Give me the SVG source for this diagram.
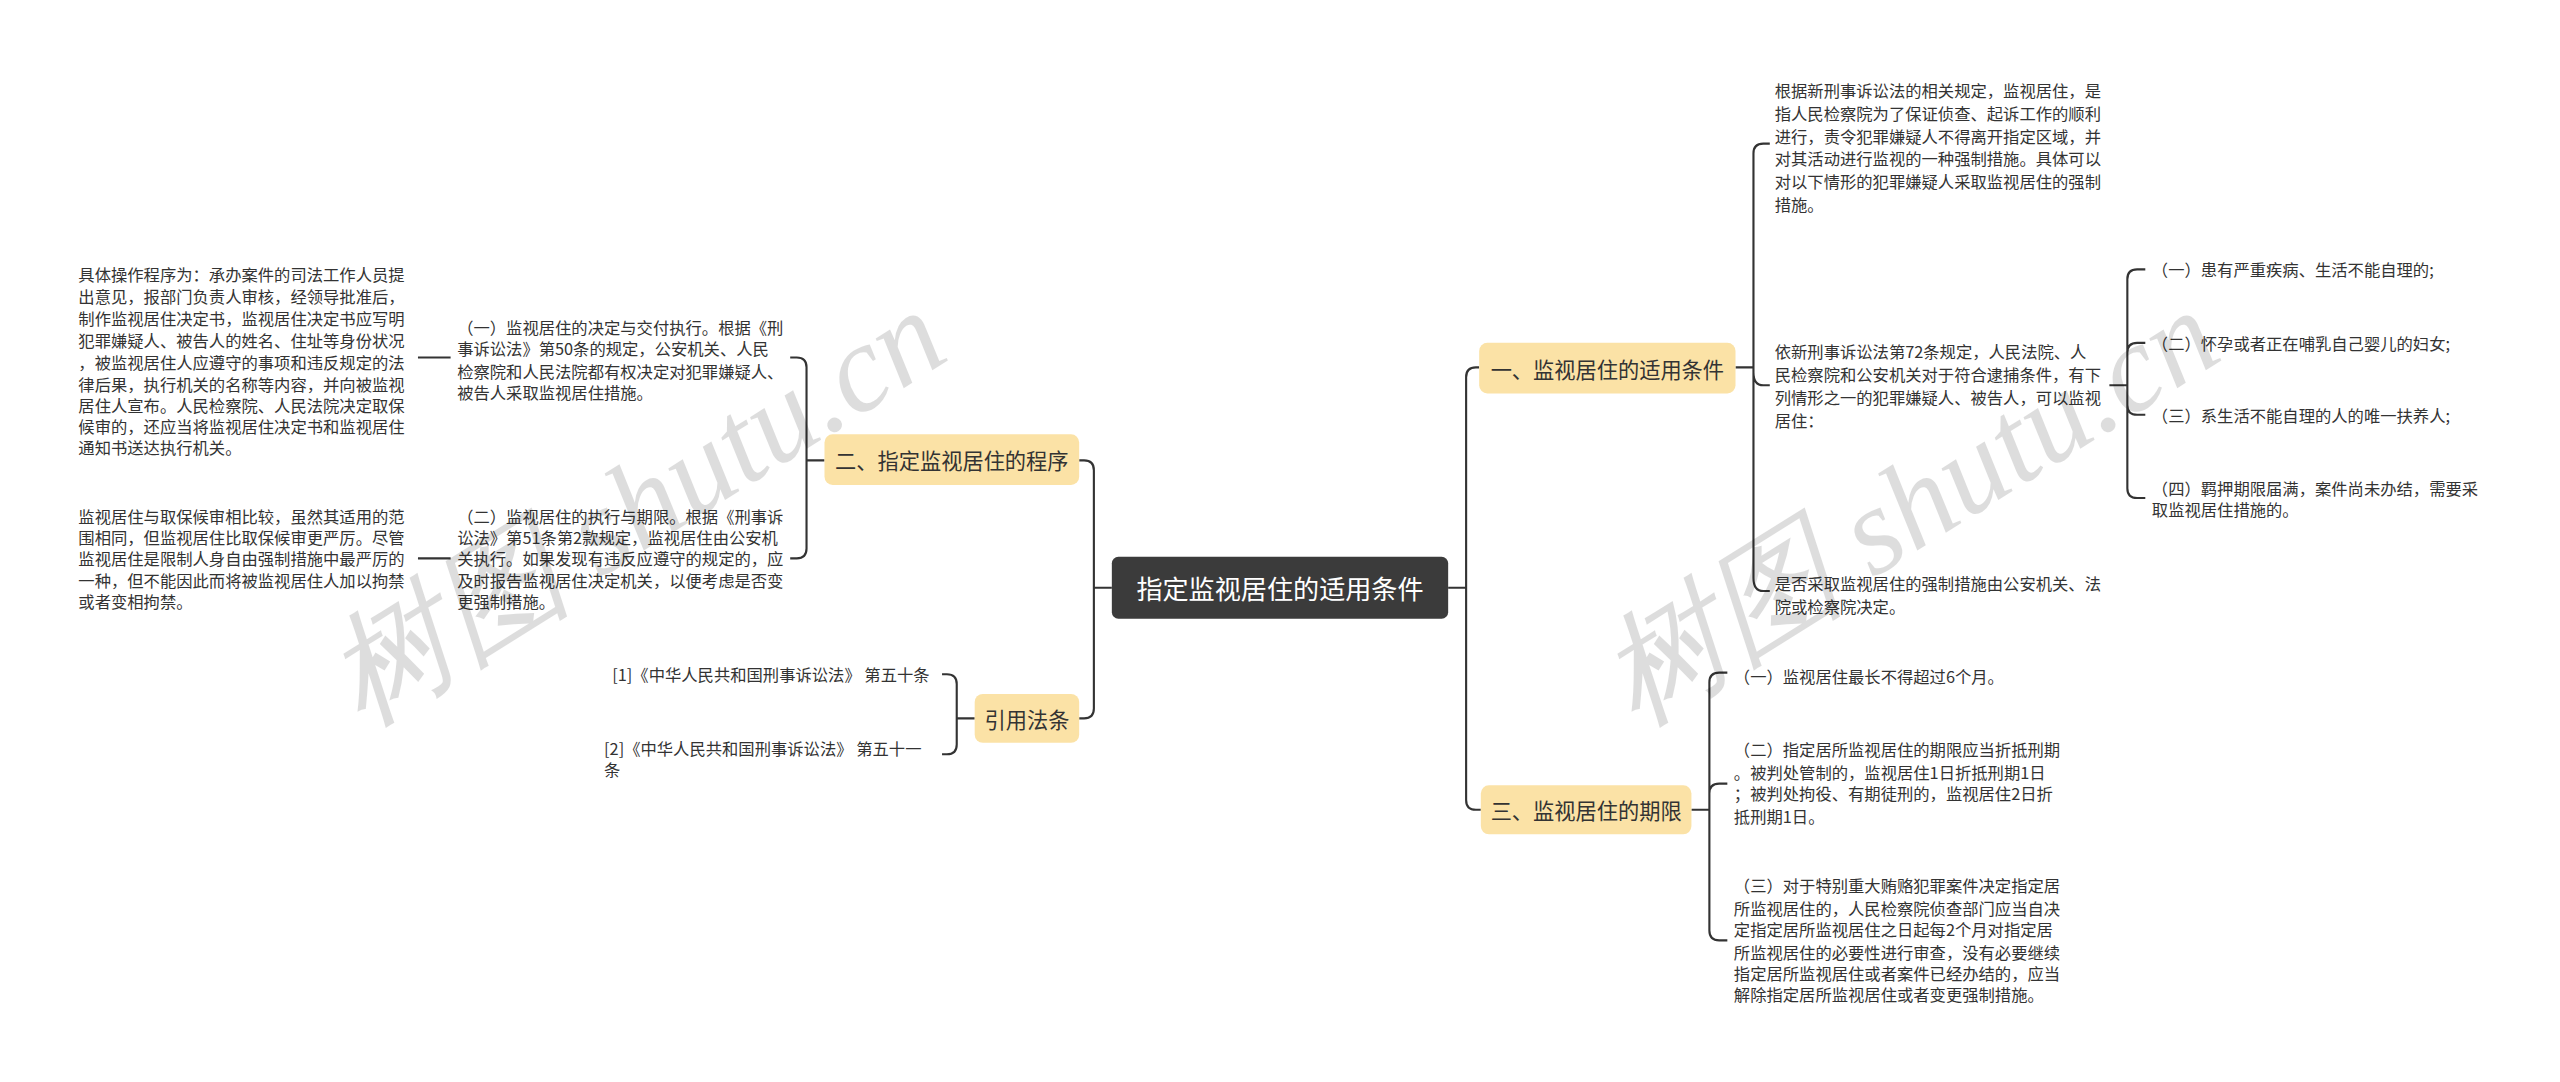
<svg xmlns="http://www.w3.org/2000/svg" width="2560" height="1082" viewBox="0 0 2560 1082">
<style>
.t{font-family:"Noto Sans CJK SC","Noto Sans",sans-serif;font-size:10px;fill:#333;dominant-baseline:central}
.b{font-family:"Noto Sans CJK SC","Noto Sans",sans-serif;font-size:13px;fill:#333;dominant-baseline:central;text-anchor:middle}
.c{font-family:"Noto Sans CJK SC","Noto Sans",sans-serif;font-size:16px;fill:#fff;dominant-baseline:central;text-anchor:middle}
.br{fill:#fbe2a6}
.ln{fill:none;stroke:#333;stroke-width:1.3}
.wm{font-family:"Liberation Serif",serif;font-size:76px;fill:#000;opacity:0.13;font-style:italic}
</style>
<rect width="2560" height="1082" fill="#fff"/>
<g transform="scale(1.63265)">
<g id="connectors" class="ln">
<path d="M887,360 H898 M898,360 V231 Q898,225 904,225 H906 M898,360 V490 Q898,496 904,496 H907"/>
<path d="M681,360 H670 M670,360 V288 Q670,282 664,282 H661 M670,360 V434 Q670,440 664,440 H661"/>
<path d="M1063,225 H1074 M1074,225 V94 Q1074,88 1080,88 H1084 M1074,225 V228 Q1074,236 1080,236 H1084 M1074,225 V354 Q1074,362 1080,362 H1084"/>
<path d="M1292,236 H1303 M1303,236 V171 Q1303,165 1309,165 H1314 M1303,236 V216 Q1303,210 1309,210 H1314 M1303,236 V248 Q1303,254 1309,254 H1314 M1303,236 V299 Q1303,305 1309,305 H1314"/>
<path d="M1036,496 H1047 M1047,496 V418 Q1047,412 1053,412 H1058 M1047,496 V486 Q1047,480 1053,480 H1058 M1047,496 V570 Q1047,576 1053,576 H1058"/>
<path d="M505,282 H494 M494,282 V225 Q494,219 488,219 H484 M494,282 V336 Q494,342 488,342 H484"/>
<path d="M276,219 H256 M276,342 H256"/>
<path d="M597,440 H586 M586,440 V419 Q586,413 580,413 H577 M586,440 V456 Q586,462 580,462 H577"/>
</g>
<g id="center"><rect x="681" y="341" width="206" height="38" rx="4" fill="#3b3b3b"/><text class="c" x="784" y="360">指定监视居住的适用条件</text></g>
<g id="b1"><rect class="br" x="906" y="210" width="157" height="31" rx="5"/><text class="b" x="984.5" y="225.5">一、监视居住的适用条件</text></g>
<g id="b3"><rect class="br" x="907" y="481" width="129" height="30" rx="5"/><text class="b" x="971.5" y="496">三、监视居住的期限</text></g>
<g id="b2"><rect class="br" x="505" y="266" width="156" height="31" rx="5"/><text class="b" x="583" y="281.5">二、指定监视居住的程序</text></g>
<g id="b4"><rect class="br" x="597" y="425" width="64" height="30" rx="5"/><text class="b" x="629" y="440">引用法条</text></g>
<g id="r1" class="t">
<text x="1087" y="55">根据新刑事诉讼法的相关规定，监视居住，是</text>
<text x="1087" y="69">指人民检察院为了保证侦查、起诉工作的顺利</text>
<text x="1087" y="83">进行，责令犯罪嫌疑人不得离开指定区域，并</text>
<text x="1087" y="97">对其活动进行监视的一种强制措施。具体可以</text>
<text x="1087" y="111">对以下情形的犯罪嫌疑人采取监视居住的强制</text>
<text x="1087" y="125">措施。</text>
</g>
<g id="r2" class="t">
<text x="1087" y="215">依新刑事诉讼法第72条规定，人民法院、人</text>
<text x="1087" y="229">民检察院和公安机关对于符合逮捕条件，有下</text>
<text x="1087" y="243">列情形之一的犯罪嫌疑人、被告人，可以监视</text>
<text x="1087" y="257">居住：</text>
</g>
<g id="r2a" class="t"><text x="1318" y="165">（一）患有严重疾病、生活不能自理的;</text></g>
<g id="r2b" class="t"><text x="1318" y="210">（二）怀孕或者正在哺乳自己婴儿的妇女;</text></g>
<g id="r2c" class="t"><text x="1318" y="254">（三）系生活不能自理的人的唯一扶养人;</text></g>
<g id="r2d" class="t"><text x="1318" y="299">（四）羁押期限届满，案件尚未办结，需要采</text><text x="1318" y="312">取监视居住措施的。</text></g>
<g id="r3" class="t"><text x="1087" y="357">是否采取监视居住的强制措施由公安机关、法</text><text x="1087" y="371">院或检察院决定。</text></g>
<g id="s1" class="t"><text x="1062" y="414">（一）监视居住最长不得超过6个月。</text></g>
<g id="s2" class="t">
<text x="1062" y="459">（二）指定居所监视居住的期限应当折抵刑期</text>
<text x="1062" y="473">。被判处管制的，监视居住1日折抵刑期1日</text>
<text x="1062" y="486">；被判处拘役、有期徒刑的，监视居住2日折</text>
<text x="1062" y="500">抵刑期1日。</text>
</g>
<g id="s3" class="t">
<text x="1062" y="542">（三）对于特别重大贿赂犯罪案件决定指定居</text>
<text x="1062" y="556">所监视居住的，人民检察院侦查部门应当自决</text>
<text x="1062" y="569">定指定居所监视居住之日起每2个月对指定居</text>
<text x="1062" y="583">所监视居住的必要性进行审查，没有必要继续</text>
<text x="1062" y="596">指定居所监视居住或者案件已经办结的，应当</text>
<text x="1062" y="609">解除指定居所监视居住或者变更强制措施。</text>
</g>
<g id="l1" class="t">
<text x="280" y="200">（一）监视居住的决定与交付执行。根据《刑</text>
<text x="280" y="213">事诉讼法》第50条的规定，公安机关、人民</text>
<text x="280" y="227">检察院和人民法院都有权决定对犯罪嫌疑人、</text>
<text x="280" y="240">被告人采取监视居住措施。</text>
</g>
<g id="l2" class="t">
<text x="280" y="316">（二）监视居住的执行与期限。根据《刑事诉</text>
<text x="280" y="329">讼法》第51条第2款规定，监视居住由公安机</text>
<text x="280" y="342">关执行。如果发现有违反应遵守的规定的，应</text>
<text x="280" y="355">及时报告监视居住决定机关，以便考虑是否变</text>
<text x="280" y="368">更强制措施。</text>
</g>
<g id="l1a" class="t">
<text x="48" y="168">具体操作程序为：承办案件的司法工作人员提</text>
<text x="48" y="181">出意见，报部门负责人审核，经领导批准后，</text>
<text x="48" y="195">制作监视居住决定书，监视居住决定书应写明</text>
<text x="48" y="208">犯罪嫌疑人、被告人的姓名、住址等身份状况</text>
<text x="48" y="222">，被监视居住人应遵守的事项和违反规定的法</text>
<text x="48" y="235">律后果，执行机关的名称等内容，并向被监视</text>
<text x="48" y="248">居住人宣布。人民检察院、人民法院决定取保</text>
<text x="48" y="261">候审的，还应当将监视居住决定书和监视居住</text>
<text x="48" y="274">通知书送达执行机关。</text>
</g>
<g id="l2a" class="t">
<text x="48" y="316">监视居住与取保候审相比较，虽然其适用的范</text>
<text x="48" y="329">围相同，但监视居住比取保候审更严厉。尽管</text>
<text x="48" y="342">监视居住是限制人身自由强制措施中最严厉的</text>
<text x="48" y="355">一种，但不能因此而将被监视居住人加以拘禁</text>
<text x="48" y="368">或者变相拘禁。</text>
</g>
<g id="c1" class="t"><text x="375" y="413">[1]《中华人民共和国刑事诉讼法》 第五十条</text></g>
<g id="c2" class="t"><text x="370" y="458">[2]《中华人民共和国刑事诉讼法》 第五十一</text><text x="370" y="471">条</text></g>
<text class="wm" transform="translate(222,445) rotate(-32)">树图 shutu.cn</text>
<text class="wm" transform="translate(1002,445) rotate(-32)">树图 shutu.cn</text>
</g>
</svg>
